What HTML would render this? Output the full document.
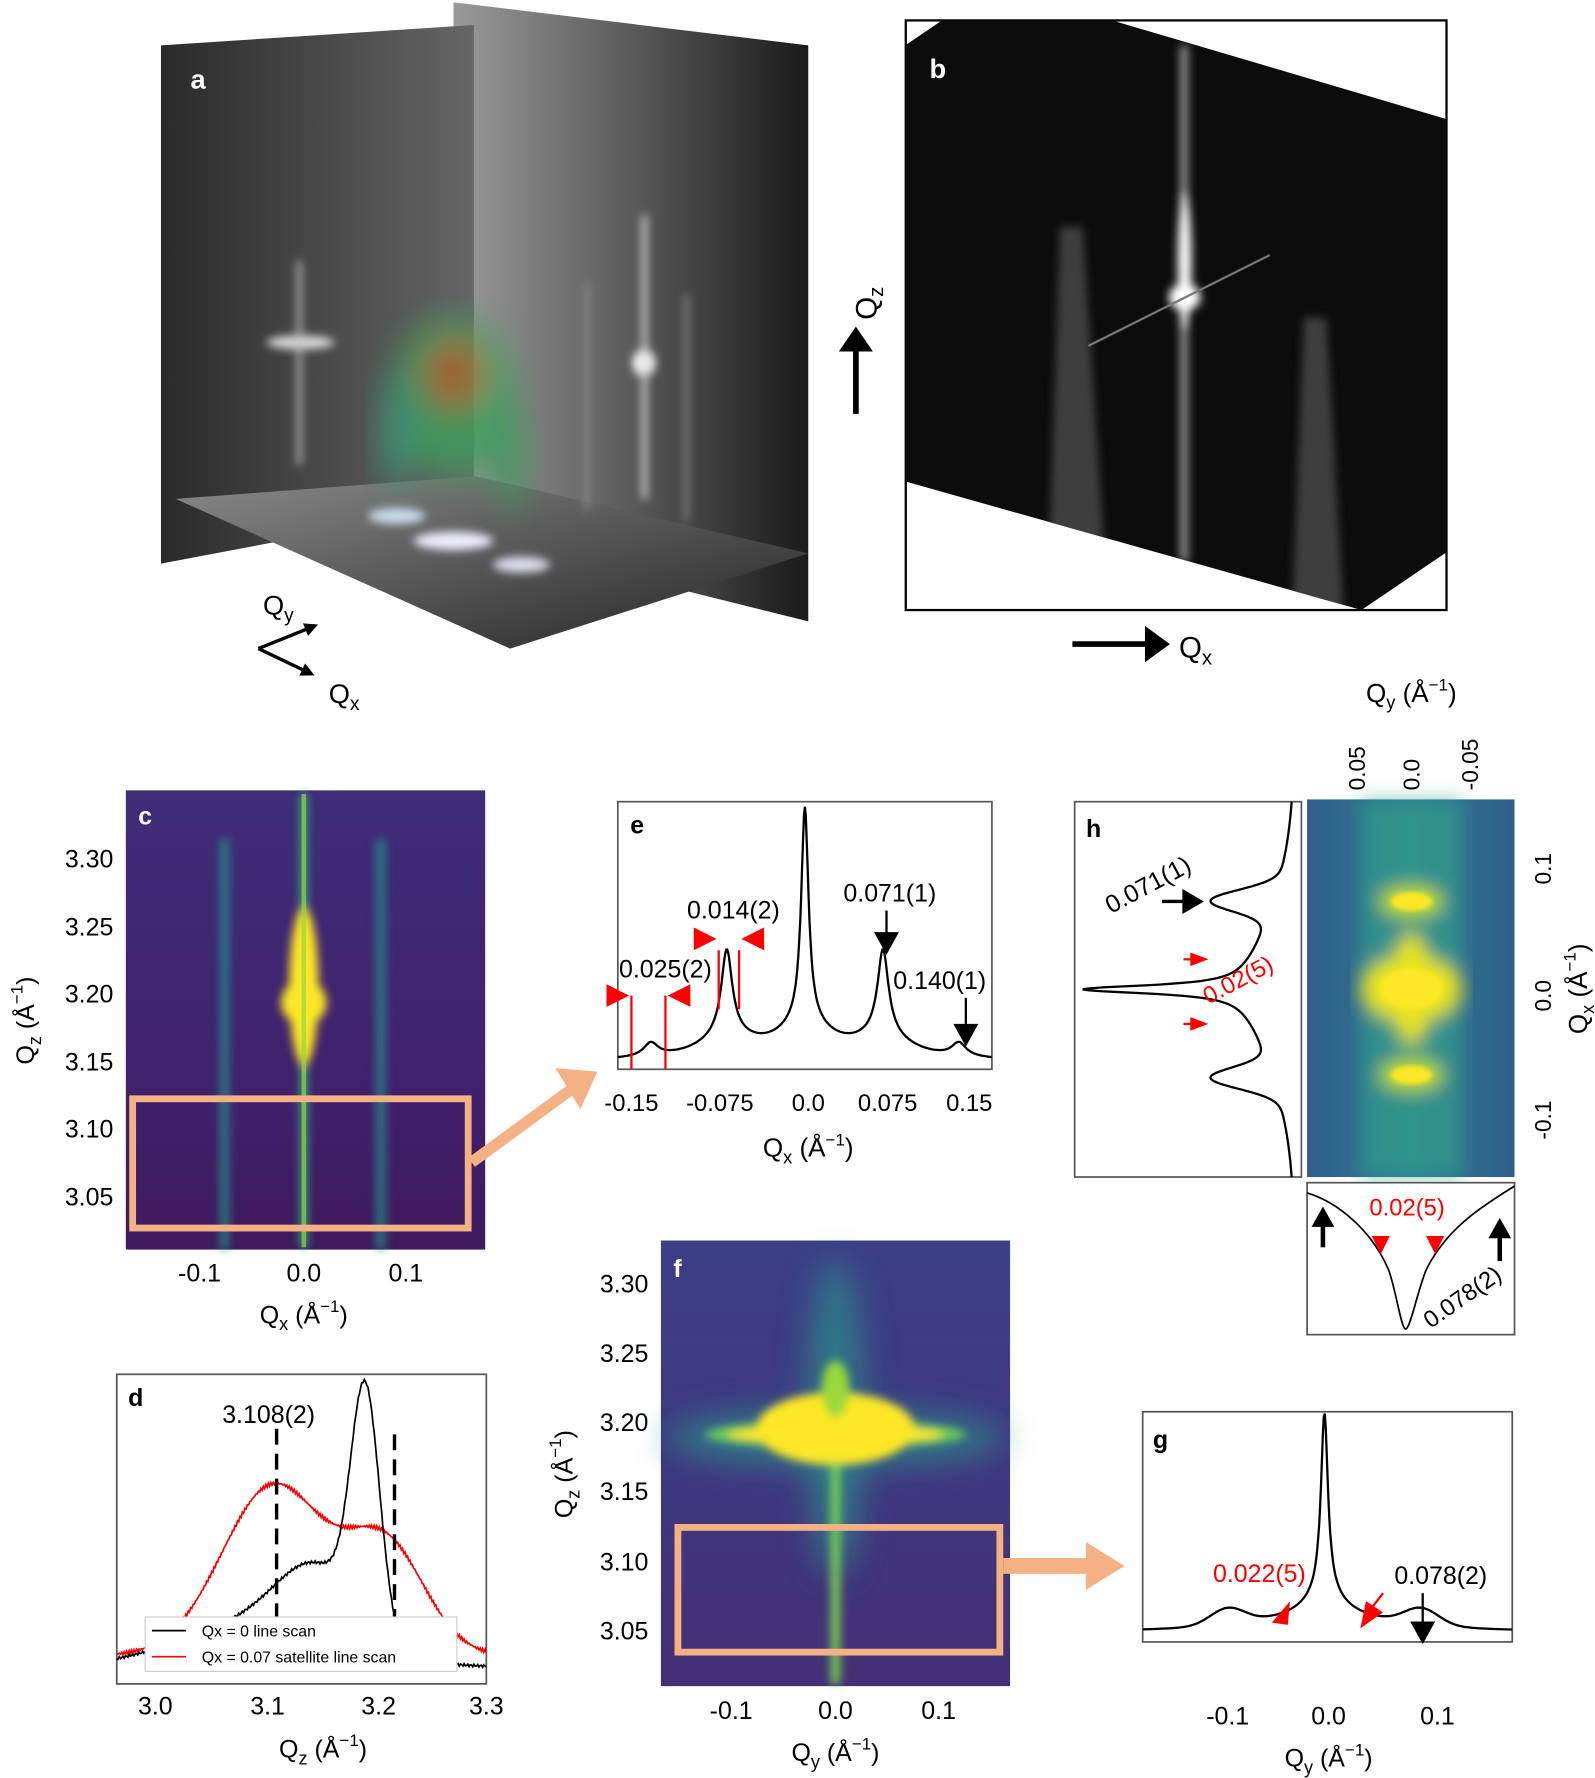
<!DOCTYPE html>
<html><head><meta charset="utf-8"><style>
html,body{margin:0;padding:0;background:#fff}
svg{display:block}
text{font-family:"Liberation Sans","DejaVu Sans",sans-serif}
</style></head><body>
<svg id="s" width="1595" height="1778" viewBox="0 0 1407 1568" preserveAspectRatio="none" xmlns="http://www.w3.org/2000/svg">
<defs>
<filter id="b2"><feGaussianBlur stdDeviation="2"/></filter>
<filter id="b4"><feGaussianBlur stdDeviation="4"/></filter>
<filter id="b8"><feGaussianBlur stdDeviation="8"/></filter>
<filter id="b14"><feGaussianBlur stdDeviation="14"/></filter>
<clipPath id="ce"><rect x="545" y="707" width="330" height="236"/></clipPath>
<clipPath id="ch"><rect x="948" y="707" width="200" height="331"/></clipPath>
<clipPath id="cd"><rect x="103" y="1212" width="326" height="273"/></clipPath>
<clipPath id="cg"><rect x="1008" y="1245" width="326" height="203"/></clipPath>
<clipPath id="cb"><polygon points="800,39 831,18 981,18 1276,105 1276,487 1201,538 800,425"/></clipPath>
<linearGradient id="lw" x1="0" y1="0" x2="1" y2="0"><stop offset="0" stop-color="#2a2a2a"/><stop offset="1" stop-color="#666"/></linearGradient>
<linearGradient id="rw" x1="0" y1="0" x2="1" y2="0"><stop offset="0" stop-color="#9a9a9a"/><stop offset="0.5" stop-color="#5a5a5a"/><stop offset="1" stop-color="#1a1a1a"/></linearGradient>
<linearGradient id="fl" x1="0" y1="0" x2="1" y2="1"><stop offset="0" stop-color="#8a8a8a"/><stop offset="1" stop-color="#222"/></linearGradient>
<linearGradient id="cbg" x1="0" y1="0" x2="0" y2="1"><stop offset="0" stop-color="#3f2d78"/><stop offset="0.7" stop-color="#41206a"/><stop offset="1" stop-color="#3e1a5e"/></linearGradient>
<linearGradient id="fbg" x1="0" y1="0" x2="0" y2="1"><stop offset="0" stop-color="#3c3f86"/><stop offset="1" stop-color="#433076"/></linearGradient>
<linearGradient id="hbg" x1="0" y1="0" x2="1" y2="0"><stop offset="0" stop-color="#2f5f8c"/><stop offset="0.5" stop-color="#2b7a8e"/><stop offset="1" stop-color="#2f5f8c"/></linearGradient>
<marker id="ah" viewBox="0 0 10 10" refX="5" refY="5" markerWidth="4" markerHeight="4" orient="auto"><path d="M0,0L10,5L0,10z" fill="#000"/></marker>
</defs>

<!-- Panel a -->
<polygon points="400,2 713,40 713,548 400,470" fill="url(#rw)"/>
<polygon points="142,40 418,22 418,445 142,497" fill="url(#lw)"/>
<polygon points="155,440 420,420 713,488 450,572" fill="url(#fl)"/>
<g filter="url(#b4)">
<ellipse cx="265" cy="302" rx="30" ry="6" fill="#ddd"/>
<rect x="262" y="230" width="4" height="180" fill="#bbb"/>
<ellipse cx="568" cy="320" rx="10" ry="12" fill="#fff"/>
<rect x="566" y="190" width="5" height="250" fill="#ccc"/>
<rect x="516" y="250" width="3" height="200" fill="#999"/>
<rect x="604" y="260" width="3" height="200" fill="#999"/>
<ellipse cx="350" cy="455" rx="25" ry="7" fill="#cde"/>
<ellipse cx="400" cy="477" rx="35" ry="8" fill="#eef"/>
<ellipse cx="460" cy="498" rx="25" ry="7" fill="#dde"/>
</g>
<g filter="url(#b14)" opacity="0.8">
<ellipse cx="400" cy="350" rx="55" ry="70" fill="#3aa05a"/>
<ellipse cx="400" cy="330" rx="25" ry="30" fill="#b06020"/>
<ellipse cx="450" cy="400" rx="15" ry="50" fill="#3a9a5a"/>
<ellipse cx="350" cy="380" rx="15" ry="50" fill="#3a9a7a"/>
</g>
<text x="168" y="78" font-size="24" font-weight="bold" fill="#fff">a</text>
<line x1="228" y1="572" x2="275" y2="553" stroke="#000" stroke-width="3" marker-end="url(#ah)"/>
<line x1="228" y1="572" x2="272" y2="593" stroke="#000" stroke-width="3" marker-end="url(#ah)"/>
<text x="232" y="542" font-size="24" font-family="Liberation Serif">Q<tspan font-size="17" dy="6">y</tspan></text>
<text x="290" y="620" font-size="24" font-family="Liberation Serif">Q<tspan font-size="17" dy="6">x</tspan></text>

<!-- Panel b -->
<rect x="799" y="18" width="477" height="520" fill="#fff" stroke="#000" stroke-width="2"/>
<polygon points="800,39 831,18 981,18 1276,105 1276,487 1201,538 800,425" fill="#0c0c0c"/>
<g clip-path="url(#cb)">
<g filter="url(#b4)">
<rect x="1041" y="40" width="7" height="455" fill="#999"/>
<ellipse cx="1045" cy="230" rx="6" ry="60" fill="#fff"/>
<ellipse cx="1045" cy="262" rx="14" ry="12" fill="#fff"/>
<polygon points="935,200 955,200 975,500 925,500" fill="#555" opacity="0.7"/>
<polygon points="1150,280 1170,280 1185,538 1140,538" fill="#555" opacity="0.7"/>
</g>
<line x1="960" y1="305" x2="1120" y2="225" stroke="#777" stroke-width="2"/>
</g>
<text x="820" y="69" font-size="24" font-weight="bold" fill="#fff">b</text>
<line x1="755" y1="365" x2="755" y2="305" stroke="#000" stroke-width="5"/><polygon points="740,310 770,310 755,288" fill="#000"/>
<text x="0" y="0" font-size="26" font-family="Liberation Serif" transform="translate(773,282) rotate(-90)">Q<tspan font-size="18" dy="6">z</tspan></text>
<line x1="946" y1="568" x2="1015" y2="568" stroke="#000" stroke-width="5"/><polygon points="1010,552 1010,584 1032,568" fill="#000"/>
<text x="1040" y="580" font-size="26" font-family="Liberation Serif">Q<tspan font-size="18" dy="6">x</tspan></text>

<!-- Panel c -->
<rect x="111" y="697" width="317" height="405" fill="url(#cbg)"/>
<g filter="url(#b4)">
<rect x="194" y="740" width="8" height="362" fill="#1f9a8a" opacity="0.75"/>
<rect x="332" y="740" width="8" height="362" fill="#1f9a8a" opacity="0.75"/>
<rect x="265" y="700" width="6" height="400" fill="#35b779"/>
<ellipse cx="268" cy="870" rx="13" ry="70" fill="#fde725"/>
<ellipse cx="268" cy="884" rx="20" ry="20" fill="#fde725"/>
</g>
<rect x="266" y="700" width="4" height="400" fill="#90d743" opacity="0.7"/>
<rect x="117" y="969" width="296" height="114" fill="none" stroke="#f4b183" stroke-width="6"/>
<text x="122" y="727" font-size="22" font-weight="bold" fill="#fff">c</text>
<g font-size="22" text-anchor="end">
<text x="100" y="765">3.30</text><text x="100" y="825">3.25</text><text x="100" y="884">3.20</text><text x="100" y="944">3.15</text><text x="100" y="1003">3.10</text><text x="100" y="1063">3.05</text></g>
<g font-size="22" text-anchor="middle"><text x="176" y="1130">-0.1</text><text x="268" y="1130">0.0</text><text x="358" y="1130">0.1</text>
<text x="268" y="1167">Q<tspan font-size="16" dy="6">x</tspan><tspan dy="-6"> (Å</tspan><tspan font-size="15" dy="-10">−1</tspan><tspan dy="10">)</tspan></text></g>
<text transform="translate(30,900) rotate(-90)" font-size="22" text-anchor="middle">Q<tspan font-size="16" dy="6">z</tspan><tspan dy="-6"> (Å</tspan><tspan font-size="15" dy="-10">−1</tspan><tspan dy="10">)</tspan></text>
<line x1="416" y1="1025" x2="505" y2="960" stroke="#f4b183" stroke-width="10"/><polygon points="490,942 527,945 512,978" fill="#f4b183"/>

<!-- Panel e -->
<rect x="545" y="707" width="330" height="236" fill="#fff" stroke="#555" stroke-width="1.5"/>
<path id="pe" fill="none" stroke="#000" stroke-width="2" clip-path="url(#ce)"/>
<text x="556" y="735" font-size="22" font-weight="bold">e</text>
<g stroke="red" stroke-width="2"><line x1="557" y1="878" x2="557" y2="943"/><line x1="587" y1="878" x2="587" y2="943"/><line x1="634" y1="838" x2="634" y2="890"/><line x1="652" y1="838" x2="652" y2="890"/></g>
<g fill="red"><polygon points="535,868 535,888 555,878"/><polygon points="609,868 609,888 589,878"/><polygon points="612,818 612,838 632,828"/><polygon points="674,818 674,838 654,828"/></g>
<g font-size="22"><text x="546" y="862">0.025(2)</text><text x="606" y="810">0.014(2)</text><text x="744" y="795">0.071(1)</text><text x="788" y="872">0.140(1)</text></g>
<line x1="782" y1="803" x2="782" y2="825" stroke="#000" stroke-width="2"/><polygon points="771,822 793,822 782,842" fill="#000"/>
<line x1="852" y1="880" x2="852" y2="905" stroke="#000" stroke-width="2"/><polygon points="841,903 863,903 852,923" fill="#000"/>
<g font-size="21" text-anchor="middle"><text x="557" y="980">-0.15</text><text x="635" y="980">-0.075</text><text x="713" y="980">0.0</text><text x="783" y="980">0.075</text><text x="855" y="980">0.15</text>
<text x="713" y="1020" font-size="23">Q<tspan font-size="16" dy="6">x</tspan><tspan dy="-6"> (Å</tspan><tspan font-size="15" dy="-10">−1</tspan><tspan dy="10">)</tspan></text></g>

<!-- Panel h -->
<rect x="948" y="707" width="200" height="331" fill="#fff" stroke="#555" stroke-width="1.5"/>
<path id="ph" fill="none" stroke="#000" stroke-width="2" clip-path="url(#ch)"/>
<text x="958" y="738" font-size="22" font-weight="bold">h</text>
<text transform="translate(980,806) rotate(-28)" font-size="22">0.071(1)</text>
<line x1="1025" y1="795" x2="1045" y2="795" stroke="#000" stroke-width="3"/><polygon points="1043,784 1043,806 1062,795" fill="#000"/>
<text transform="translate(1066,886) rotate(-28)" font-size="21" fill="red">0.02(5)</text>
<polygon points="1050,840 1050,852 1066,846" fill="red"/><line x1="1044" y1="846" x2="1052" y2="846" stroke="red" stroke-width="2"/>
<polygon points="1050,897 1050,909 1066,903" fill="red"/><line x1="1044" y1="903" x2="1052" y2="903" stroke="red" stroke-width="2"/>
<rect x="1153" y="705" width="183" height="333" fill="url(#hbg)"/>
<g filter="url(#b8)">
<rect x="1200" y="705" width="90" height="333" fill="#31a48a" opacity="0.6"/>
<ellipse cx="1245" cy="795" rx="28" ry="14" fill="#c8e020"/>
<ellipse cx="1245" cy="948" rx="28" ry="14" fill="#c8e020"/>
<ellipse cx="1245" cy="872" rx="45" ry="30" fill="#e8e41f"/>
<ellipse cx="1245" cy="872" rx="18" ry="50" fill="#e8e41f"/>
</g>
<ellipse cx="1245" cy="795" rx="18" ry="8" fill="#fde725" filter="url(#b2)"/>
<ellipse cx="1245" cy="948" rx="18" ry="8" fill="#fde725" filter="url(#b2)"/>
<ellipse cx="1245" cy="872" rx="28" ry="18" fill="#fde725" filter="url(#b2)"/>
<g font-size="20"><text transform="translate(1204,697) rotate(-90)">0.05</text><text transform="translate(1252,697) rotate(-90)">0.0</text><text transform="translate(1304,697) rotate(-90)">-0.05</text>
<text transform="translate(1368,780) rotate(-90)">0.1</text><text transform="translate(1368,892) rotate(-90)">0.0</text><text transform="translate(1368,1005) rotate(-90)">-0.1</text></g>
<text x="1245" y="619" font-size="23" text-anchor="middle">Q<tspan font-size="16" dy="6">y</tspan><tspan dy="-6"> (Å</tspan><tspan font-size="15" dy="-10">−1</tspan><tspan dy="10">)</tspan></text>
<text transform="translate(1400,872) rotate(-90)" font-size="23" text-anchor="middle">Q<tspan font-size="16" dy="6">x</tspan><tspan dy="-6"> (Å</tspan><tspan font-size="15" dy="-10">−1</tspan><tspan dy="10">)</tspan></text>
<rect x="1153" y="1043" width="183" height="134" fill="#fff" stroke="#555" stroke-width="1.5"/>
<path d="M1153,1052 C1180,1060 1210,1085 1225,1120 C1232,1140 1236,1172 1240,1172 C1244,1172 1250,1140 1258,1120 C1275,1085 1305,1065 1336,1046" fill="none" stroke="#000" stroke-width="1.5"/>
<line x1="1167" y1="1100" x2="1167" y2="1080" stroke="#000" stroke-width="4"/><polygon points="1157,1082 1177,1082 1167,1064" fill="#000"/>
<line x1="1323" y1="1112" x2="1323" y2="1090" stroke="#000" stroke-width="4"/><polygon points="1313,1092 1333,1092 1323,1074" fill="#000"/>
<text x="1208" y="1072" font-size="21" fill="red">0.02(5)</text>
<polygon points="1210,1090 1226,1090 1218,1106" fill="red"/><polygon points="1258,1090 1274,1090 1266,1106" fill="red"/>
<text transform="translate(1262,1172) rotate(-35)" font-size="21">0.078(2)</text>

<!-- Panel d -->
<rect x="103" y="1212" width="326" height="273" fill="#fff" stroke="#555" stroke-width="1.5"/>
<path id="pdr" fill="none" stroke="red" stroke-width="1.5" clip-path="url(#cd)"/>
<path id="pdk" fill="none" stroke="#000" stroke-width="1.5" clip-path="url(#cd)"/>
<line x1="244" y1="1260" x2="244" y2="1430" stroke="#000" stroke-width="3" stroke-dasharray="14,8"/>
<line x1="348" y1="1265" x2="348" y2="1430" stroke="#000" stroke-width="3" stroke-dasharray="14,8"/>
<text x="113" y="1240" font-size="22" font-weight="bold">d</text>
<text x="196" y="1255" font-size="22">3.108(2)</text>
<rect x="128" y="1426" width="275" height="48" fill="#fff" stroke="#ccc"/>
<line x1="134" y1="1438" x2="164" y2="1438" stroke="#000" stroke-width="1.5"/><text x="178" y="1443" font-size="14">Qx = 0 line scan</text>
<line x1="134" y1="1461" x2="164" y2="1461" stroke="red" stroke-width="1.5"/><text x="178" y="1466" font-size="14">Qx = 0.07 satellite line scan</text>
<g font-size="22" text-anchor="middle"><text x="137" y="1512">3.0</text><text x="236" y="1512">3.1</text><text x="334" y="1512">3.2</text><text x="429" y="1512">3.3</text>
<text x="285" y="1550">Q<tspan font-size="16" dy="6">z</tspan><tspan dy="-6"> (Å</tspan><tspan font-size="15" dy="-10">−1</tspan><tspan dy="10">)</tspan></text></g>

<!-- Panel f -->
<rect x="583" y="1094" width="308" height="393" fill="url(#fbg)"/>
<g filter="url(#b14)">
<ellipse cx="737" cy="1268" rx="150" ry="25" fill="#2a8a8c" opacity="0.8"/>
<ellipse cx="737" cy="1250" rx="25" ry="140" fill="#2a8a8c" opacity="0.8"/>
</g>
<g filter="url(#b4)">
<ellipse cx="737" cy="1265" rx="115" ry="12" fill="#6ccd5a"/>
<ellipse cx="737" cy="1260" rx="70" ry="32" fill="#fde725"/>
<ellipse cx="737" cy="1265" rx="95" ry="8" fill="#fde725"/>
<rect x="733" y="1290" width="8" height="195" fill="#7ad151"/>
<ellipse cx="737" cy="1225" rx="12" ry="25" fill="#9ad93a"/>
</g>
<rect x="598" y="1347" width="284" height="110" fill="none" stroke="#f4b183" stroke-width="6"/>
<text x="594" y="1126" font-size="22" font-weight="bold" fill="#fff">f</text>
<g font-size="22" text-anchor="end"><text x="572" y="1140">3.30</text><text x="572" y="1201">3.25</text><text x="572" y="1262">3.20</text><text x="572" y="1323">3.15</text><text x="572" y="1385">3.10</text><text x="572" y="1446">3.05</text></g>
<g font-size="22" text-anchor="middle"><text x="645" y="1516">-0.1</text><text x="737" y="1516">0.0</text><text x="828" y="1516">0.1</text>
<text x="737" y="1553">Q<tspan font-size="16" dy="6">y</tspan><tspan dy="-6"> (Å</tspan><tspan font-size="15" dy="-10">−1</tspan><tspan dy="10">)</tspan></text></g>
<text transform="translate(505,1300) rotate(-90)" font-size="22" text-anchor="middle">Q<tspan font-size="16" dy="6">z</tspan><tspan dy="-6"> (Å</tspan><tspan font-size="15" dy="-10">−1</tspan><tspan dy="10">)</tspan></text>
<line x1="885" y1="1381" x2="960" y2="1381" stroke="#f4b183" stroke-width="14"/><polygon points="958,1360 958,1402 992,1381" fill="#f4b183"/>

<!-- Panel g -->
<rect x="1008" y="1245" width="326" height="203" fill="#fff" stroke="#555" stroke-width="1.5"/>
<path id="pg" fill="none" stroke="#000" stroke-width="2" clip-path="url(#cg)"/>
<text x="1017" y="1277" font-size="22" font-weight="bold">g</text>
<text x="1070" y="1395" font-size="22" fill="red">0.022(5)</text>
<polygon points="1122,1431 1138,1412 1136,1433" fill="red"/><polygon points="1200,1436 1205,1412 1220,1422" fill="red"/><line x1="1210" y1="1418" x2="1220" y2="1405" stroke="red" stroke-width="2"/>
<text x="1230" y="1397" font-size="22">0.078(2)</text>
<line x1="1255" y1="1405" x2="1255" y2="1432" stroke="#000" stroke-width="2"/><polygon points="1244,1430 1266,1430 1255,1450" fill="#000"/>
<g font-size="22" text-anchor="middle"><text x="1083" y="1521">-0.1</text><text x="1172" y="1521">0.0</text><text x="1268" y="1521">0.1</text>
<text x="1172" y="1558">Q<tspan font-size="16" dy="6">y</tspan><tspan dy="-6"> (Å</tspan><tspan font-size="15" dy="-10">−1</tspan><tspan dy="10">)</tspan></text></g>
</svg>
<script>
function L(x,c,w){return 1/(1+((x-c)/w)*((x-c)/w));}
function G(x,c,w){return Math.exp(-Math.pow((x-c)/w,2));}
function path(n,fx,fy){var d="";for(var i=0;i<=n;i++){var t=i/n;d+=(i?"L":"M")+fx(t).toFixed(1)+","+fy(t).toFixed(1);}return d;}
document.getElementById("pe").setAttribute("d",path(400,function(t){return 545+330*t;},function(t){var x=-0.17+0.34*t;
return 936-190*L(x,0,0.004)-28*L(x,0,0.03)-75*L(x,0.071,0.006)-75*L(x,-0.071,0.006)-12*L(x,0.14,0.008)-12*L(x,-0.14,0.008)-18*L(x,0.071,0.03)-18*L(x,-0.071,0.03);}));
document.getElementById("pg").setAttribute("d",path(400,function(t){return 1008+326*t;},function(t){var x=-0.15+0.305*t;
return 1438-160*L(x,0,0.0035)-22*L(x,0,0.02)-14*G(x,0.08,0.02)-14*G(x,-0.08,0.02)-10*G(x,0,0.09);}));
document.getElementById("ph").setAttribute("d",path(400,function(t){var q=0.15-0.3*t;
return 1142-140*L(q,0,0.004)-17*L(q,0,0.03)-55*G(q,0.071,0.012)-55*G(q,-0.071,0.012)-30*G(q,0,0.09);},function(t){return 707+331*t;}));
document.getElementById("pdk").setAttribute("d",path(300,function(t){return 103+326*t;},function(t){var x=2.97+0.33*t;
return 1470-205*G(x,3.192,0.018)-60*G(x,3.15,0.05)-40*G(x,3.1,0.1)+Math.sin(t*700)*1.2;}));
document.getElementById("pdr").setAttribute("d",path(300,function(t){return 103+326*t;},function(t){var x=2.97+0.33*t;
return 1460-150*G(x,3.11,0.065)-95*G(x,3.21,0.05)+Math.sin(t*900)*1.5;}));
</script>
</body></html>
